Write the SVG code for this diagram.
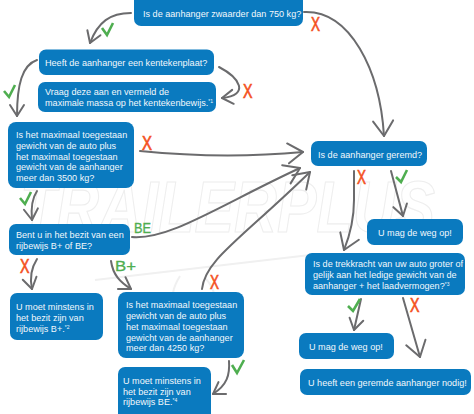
<svg xmlns="http://www.w3.org/2000/svg" width="474" height="414" viewBox="0 0 474 414">
<style>
.box{fill:#0a7abf}
.t{font-family:"Liberation Sans",Arial,sans-serif;font-size:9.1px;fill:#f2f8fc}
.s{font-size:5px}
.c{fill:none;stroke:#6b6b6d;stroke-width:2;stroke-linecap:round;stroke-linejoin:round}
.ok{fill:none;stroke:#4fae50;stroke-width:2.6}
.x{font-family:"Liberation Sans",Arial,sans-serif;font-size:21px;fill:#f4511e;stroke:#f4511e;stroke-width:.7}
.g{font-family:"Liberation Sans",Arial,sans-serif;font-size:14px;fill:#4fae50;stroke:#4fae50;stroke-width:.3}
.w{font-family:"Liberation Sans",Arial,sans-serif;font-weight:bold;font-style:italic;font-size:72px;fill:#fff;stroke:#eeeeee;stroke-width:1.2}
.wl{fill:none;stroke:#f0f0f0;stroke-width:2}
</style>
<defs>
<marker id="h" markerUnits="userSpaceOnUse" viewBox="-14 -10 16 20" markerWidth="16" markerHeight="20" refX="0" refY="0" orient="auto"><path d="M-11,-7 L0,0 L-11,7" class="c"/></marker>
<marker id="H" markerUnits="userSpaceOnUse" viewBox="-20 -13 22 26" markerWidth="22" markerHeight="26" refX="0" refY="0" orient="auto"><path d="M-15,-10 L0,0 L-15,10" class="c"/></marker>
</defs>
<g id="watermark">
<text class="w" x="20" y="232" textLength="415" lengthAdjust="spacingAndGlyphs">TRAILERPLUS</text>
<path class="wl" d="M95,280 L310,255 M180,276 C165,300 175,318 195,318 C215,318 222,295 205,278"/>
</g>
<g id="connectors">
<path class="c" marker-end="url(#h)" d="M131,13 C110,13 98,22 90,43"/>
<path class="c" marker-end="url(#h)" d="M37,60 C22,65 17,85 17,116"/>
<path class="c" marker-end="url(#h)" d="M219,67 C240,78 250,95 222,98"/>
<path class="c" marker-end="url(#H)" d="M140,151 C200,157 260,156 303,152"/>
<path class="c" marker-end="url(#H)" d="M132,237 C170,240 220,205 300,168"/>
<path class="c" marker-end="url(#H)" d="M202,289 C205,260 240,240 310,172"/>
<path class="c" marker-end="url(#h)" d="M37,191 C31,200 31,210 32,220"/>
<path class="c" marker-end="url(#h)" d="M37,259 C30,270 30,280 32,289"/>
<path class="c" marker-end="url(#h)" d="M111,261 C113,275 120,282 131,289"/>
<path class="c" marker-end="url(#h)" d="M229,361 C230,375 227,385 213,394"/>
<path class="c" marker-end="url(#H)" d="M304,12 C350,10 380,70 384,136"/>
<path class="c" marker-end="url(#H)" d="M354,171 L354,200 C354,220 350,235 344,250"/>
<path class="c" marker-end="url(#h)" d="M391,171 L403,216"/>
<path class="c" marker-end="url(#h)" d="M361,299 L354,330"/>
<path class="c" marker-end="url(#H)" d="M403,298 L420,357"/>
</g>
<g id="n1"><rect class="box" x="134" y="-8" width="169" height="34" rx="7"/><text class="t" x="143" y="17">Is de aanhanger zwaarder dan 750 kg?</text></g>
<g id="n2"><rect class="box" x="39" y="49.5" width="175" height="25.500" rx="7"/><text class="t" x="45" y="66">Heeft de aanhanger een kentekenplaat?</text></g>
<g id="n3"><rect class="box" x="38" y="82" width="178" height="30" rx="7"/><text class="t" x="45" y="95">Vraag deze aan en vermeld de</text><text class="t" x="45" y="106">maximale massa op het kentekenbewijs.<tspan class="s" dy="-3">*1</tspan></text></g>
<g id="n4"><rect class="box" x="8" y="122" width="126" height="66" rx="8"/><text class="t" x="16" y="138">Is het maximaal toegestaan</text><text class="t" x="16" y="149">gewicht van de auto plus</text><text class="t" x="16" y="159.500">het maximaal toegestaan</text><text class="t" x="16" y="170">gewicht van de aanhanger</text><text class="t" x="16" y="181">meer dan 3500 kg?</text></g>
<g id="n5"><rect class="box" x="9" y="224" width="121" height="31" rx="7"/><text class="t" x="16" y="238">Bent u in het bezit van een</text><text class="t" x="16" y="249">rijbewijs B+ of BE?</text></g>
<g id="n6"><rect class="box" x="10" y="293" width="93" height="47" rx="7"/><text class="t" x="16" y="310">U moet minstens in</text><text class="t" x="16" y="321">het bezit zijn van</text><text class="t" x="16" y="332">rijbewijs B+.<tspan class="s" dy="-3">*2</tspan></text></g>
<g id="n7"><rect class="box" x="118" y="292" width="126" height="66" rx="8"/><text class="t" x="126" y="308">Is het maximaal toegestaan</text><text class="t" x="126" y="319">gewicht van de auto plus</text><text class="t" x="126" y="329.500">het maximaal toegestaan</text><text class="t" x="126" y="341">gewicht van de aanhanger</text><text class="t" x="126" y="351">meer dan 4250 kg?</text></g>
<g id="n8"><rect class="box" x="118" y="367" width="93" height="56" rx="7"/><text class="t" x="123" y="384">U moet minstens in</text><text class="t" x="123" y="395">het bezit zijn van</text><text class="t" x="123" y="405">rijbewijs BE.<tspan class="s" dy="-3">*4</tspan></text></g>
<g id="n9"><rect class="box" x="311" y="141" width="116" height="25" rx="7"/><text class="t" x="318" y="158">Is de aanhanger geremd?</text></g>
<g id="n10"><rect class="box" x="367" y="219" width="96" height="26" rx="7"/><text class="t" x="378" y="236">U mag de weg op!</text></g>
<g id="n11"><rect class="box" x="305" y="253" width="160" height="42" rx="7"/><text class="t" x="313" y="267">Is de trekkracht van uw auto groter of</text><text class="t" x="313" y="278">gelijk aan het ledige gewicht van de</text><text class="t" x="313" y="289">aanhanger + het laadvermogen?<tspan class="s" dy="-3">*3</tspan></text></g>
<g id="n12"><rect class="box" x="299" y="333" width="95" height="26" rx="7"/><text class="t" x="309" y="350">U mag de weg op!</text></g>
<g id="n13"><rect class="box" x="300" y="369" width="171" height="26" rx="7"/><text class="t" x="308" y="386">U heeft een geremde aanhanger nodig!</text></g>
<g id="marks">
<path class="ok" d="M102,28 L107,35 L113,23"/>
<path class="ok" d="M4,91 L9,97 L15,85"/>
<path class="ok" d="M20,198 L25,204 L31,192"/>
<path class="ok" d="M232,365 L237,373 L244,360"/>
<path class="ok" d="M396,177 L401,182 L407,170"/>
<path class="ok" d="M348,306 L353,311 L360,299"/>
<text class="x" x="311" y="31" textLength="9" lengthAdjust="spacingAndGlyphs">X</text>
<text class="x" x="243" y="98" textLength="9.500" lengthAdjust="spacingAndGlyphs">X</text>
<text class="x" x="142" y="150" textLength="10" lengthAdjust="spacingAndGlyphs">X</text>
<text class="x" x="20" y="273" textLength="9.500" lengthAdjust="spacingAndGlyphs">X</text>
<text class="x" x="210" y="289" textLength="9" lengthAdjust="spacingAndGlyphs">X</text>
<text class="x" x="357" y="184" textLength="9" lengthAdjust="spacingAndGlyphs">X</text>
<text class="x" x="410" y="312" textLength="9.500" lengthAdjust="spacingAndGlyphs">X</text>
<text class="g" x="134" y="233" textLength="17" lengthAdjust="spacingAndGlyphs">BE</text>
<text class="g" x="115" y="271" textLength="21" lengthAdjust="spacingAndGlyphs">B+</text>
</g>
</svg>
